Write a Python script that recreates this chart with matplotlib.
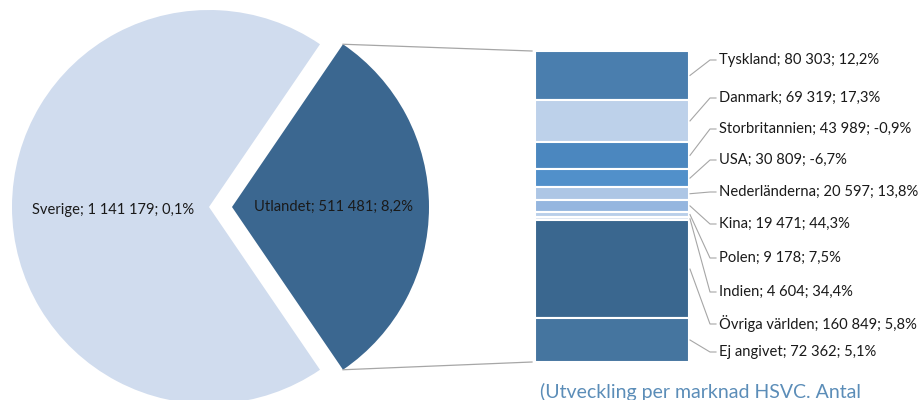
import matplotlib
matplotlib.use("Agg")
import matplotlib.pyplot as plt
import numpy as np

plt.rcParams['font.family'] = ['Lato', 'DejaVu Sans']

# pie data
pie_names = ["Utlandet", "Sverige"]
pie_values = [511481, 1141179]
pie_change = ["8,2%", "0,1%"]

# breakdown of Utlandet
countries = ["Tyskland", "Danmark", "Storbritannien", "USA", "Nederländerna",
             "Kina", "Polen", "Indien", "Övriga världen", "Ej angivet"]
country_values = [80303, 69319, 43989, 30809, 20597, 19471, 9178, 4604, 160849, 72362]
country_change = ["12,2%", "17,3%", "-0,9%", "-6,7%", "13,8%",
                  "44,3%", "7,5%", "34,4%", "5,8%", "5,1%"]

pie_colors = ["#3B6790", "#D0DCEE"]
bar_colors = ["#4A7EAE", "#BDD1EA", "#4B87BF", "#5190CA", "#ADC6E5",
              "#95B6DF", "#B9CFEA", "#DCE6F2", "#3A678F", "#45759F"]


def fmt(v):
    return f"{v:,}".replace(",", " ")


W, H = 924, 400
fig = plt.figure(figsize=(W / 100, H / 100), dpi=100)
ax = fig.add_axes([0, 0, 1, 1])

# pie, in pixel-like data coordinates
radius = 197
half = 0.5 * 360 * pie_values[0] / sum(pie_values)
wedges, _ = ax.pie(pie_values, colors=pie_colors, startangle=-half,
                   explode=[23, 0], radius=radius, center=(209, 193),
                   wedgeprops=dict(linewidth=0))
ax.set_xlim(0, W)
ax.set_ylim(0, H)
ax.set_aspect("equal")
ax.axis("off")

fs = 10.6
ax.text(333, 193, f"{pie_names[0]}; {fmt(pie_values[0])}; {pie_change[0]}",
        ha="center", va="center", fontsize=fs, color="#1a1a1a")
ax.text(113, 190, f"{pie_names[1]}; {fmt(pie_values[1])}; {pie_change[1]}",
        ha="center", va="center", fontsize=fs, color="#1a1a1a")

# stacked bar on its own axes
bx0, by0, bw, bh = 535, 38, 154, 311
axb = fig.add_axes([bx0 / W, by0 / H, bw / W, bh / H])
total = sum(country_values)
bottom = 0
mids = []
for v, c in zip(country_values, bar_colors):
    axb.bar(0, v, bottom=bottom, width=1, color=c, edgecolor="white", linewidth=1.5)
    mids.append(bottom + v / 2)
    bottom += v
axb.set_xlim(-0.5, 0.5)
axb.set_ylim(total, 0)
axb.axis("off")

# connector lines from the exploded wedge to the bar
w = wedges[0]
cx, cy = w.center
for ang, yb in [(w.theta2, 0), (w.theta1, total)]:
    px = cx + w.r * np.cos(np.radians(ang))
    py = cy + w.r * np.sin(np.radians(ang))
    bar_pt = ax.transData.inverted().transform(axb.transData.transform((-0.5, yb)))
    ax.plot([px, bar_pt[0] - 3], [py, bar_pt[1]], color="#A6A6A6", lw=0.9)

# labels with leader lines
label_y = [60, 98, 129, 160, 192, 224, 258, 292, 324, 352]
for name, v, ch, m, ly in zip(countries, country_values, country_change, mids, label_y):
    start = ax.transData.inverted().transform(axb.transData.transform((0.5, m)))
    y = H - ly
    ax.plot([start[0] + 1, 710, 716], [start[1], y, y], color="#A6A6A6", lw=0.8)
    ax.text(719, y, f"{name}; {fmt(v)}; {ch}", ha="left", va="center",
            fontsize=fs, color="#1a1a1a")

# caption, cut at the bottom edge as in the original
ax.text(540, H - 383, "(Utveckling per marknad HSVC. Antal", ha="left", va="top",
        fontsize=14, color="#5B8DB8")

fig.savefig("out.png", dpi=100)
